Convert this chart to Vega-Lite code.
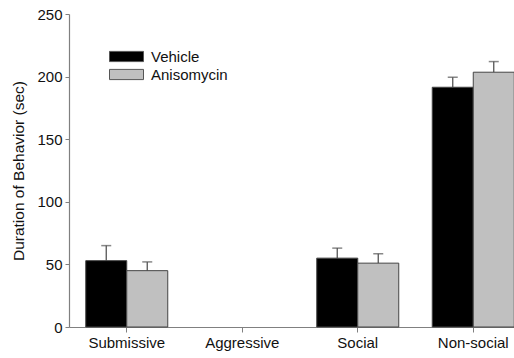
{
  "$schema": "https://vega.github.io/schema/vega-lite/v6.json",
  "width": 445,
  "height": 313,
  "autosize": {"type": "none"},
  "padding": {"left": 69, "top": 14, "right": 0, "bottom": 31},
  "background": "white",
  "config": {
    "font": "Liberation Sans",
    "view": {"stroke": null},
    "axis": {"domainColor": "#808080", "tickColor": "#808080", "grid": false, "labelColor": "#111", "titleColor": "#111", "labelFontSize": 15, "titleFontSize": 15.5, "titleFontWeight": "normal", "labelFont": "Liberation Sans", "titleFont": "Liberation Sans"}
  },
  "data": {"values": [
    {"behavior": "Submissive", "group": "Vehicle", "value": 53, "upper": 65},
    {"behavior": "Submissive", "group": "Anisomycin", "value": 45, "upper": 52},
    {"behavior": "Social", "group": "Vehicle", "value": 55, "upper": 63},
    {"behavior": "Social", "group": "Anisomycin", "value": 51, "upper": 58.5},
    {"behavior": "Non-social", "group": "Vehicle", "value": 191.5, "upper": 199.5},
    {"behavior": "Non-social", "group": "Anisomycin", "value": 203.5, "upper": 212}
  ]},
  "encoding": {
    "x": {"field": "behavior", "type": "nominal", "sort": null,
      "scale": {"domain": ["Submissive", "Aggressive", "Social", "Non-social"], "range": [0, 462], "paddingInner": 0.29, "paddingOuter": 0.145},
      "axis": {"title": null, "labelAngle": 0, "tickSize": 5, "labelPadding": 3, "domainWidth": 1.2}},
    "xOffset": {"field": "group", "type": "nominal", "scale": {"domain": ["Vehicle", "Anisomycin"]}}
  },
  "layer": [
    {
      "mark": {"type": "rule", "color": "#555", "strokeWidth": 1.3},
      "encoding": {
        "y": {"field": "value", "type": "quantitative"},
        "y2": {"field": "upper"}
      }
    },
    {
      "mark": {"type": "tick", "color": "#555", "size": 10, "thickness": 1.5, "orient": "horizontal"},
      "encoding": {
        "y": {"field": "upper", "type": "quantitative"}
      }
    },
    {
      "mark": {"type": "bar", "stroke": "#444", "strokeWidth": 1},
      "encoding": {
        "y": {"field": "value", "type": "quantitative",
          "scale": {"domain": [0, 250], "nice": false},
          "axis": {"title": "Duration of Behavior (sec)", "values": [0, 50, 100, 150, 200, 250], "tickSize": 4, "labelPadding": 3, "titlePadding": 10, "domainWidth": 1.2}},
        "color": {"field": "group", "type": "nominal",
          "scale": {"domain": ["Vehicle", "Anisomycin"], "range": ["#000000", "#c0c0c0"]},
          "legend": {"title": null, "orient": "none", "legendX": 48.5, "legendY": 33.5,
            "symbolType": "M-2,-0.6H2V0.6H-2Z", "symbolSize": 289, "symbolStrokeColor": "#555", "symbolStrokeWidth": 1,
            "labelFontSize": 15, "labelColor": "#111", "labelFont": "Liberation Sans", "rowPadding": 1, "labelOffset": 15.5}}
      }
    }
  ]
}
